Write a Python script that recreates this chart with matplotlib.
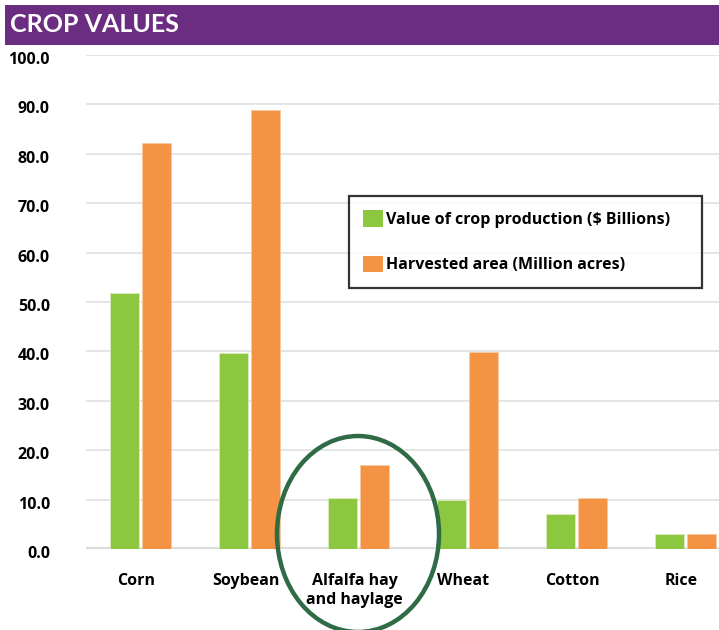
import matplotlib
matplotlib.use("Agg")
import matplotlib.pyplot as plt
from matplotlib.patches import Rectangle, Ellipse, Patch
import matplotlib.transforms as mtransforms
import numpy as np

categories = ["Corn", "Soybean", "Alfalfa hay\nand haylage", "Wheat", "Cotton", "Rice"]
value_billions = [51.8, 39.7, 10.3, 10.0, 7.1, 3.0]
area_million_acres = [82.1, 88.9, 17.0, 39.9, 10.3, 3.0]
yticks = [0, 10, 20, 30, 40, 50, 60, 70, 80, 90, 100]
series_labels = ["Value of crop production ($ Billions)", "Harvested area (Million acres)"]
title = "CROP VALUES"

GREEN = "#8DC63F"
ORANGE = "#F39343"
PURPLE = "#6B2D82"
FONT = "Open Sans"

W, H = 719, 630
fig = plt.figure(figsize=(W / 100, H / 100), dpi=100)

# title banner
fig.patches.append(Rectangle((5 / W, 1 - 45 / H), 1 - 5 / W, 40 / H,
                             transform=fig.transFigure, facecolor=PURPLE,
                             edgecolor="none", zorder=0))
fig.text(10 / W, 1 - 25 / H, title, color="white", fontsize=18,
         fontweight="bold", family="Lato", va="center", ha="left")

ax = fig.add_axes([86 / W, 1 - 549 / H, 1 - 86 / W, (549 - 55) / H])
x = np.arange(len(categories))
bw = 0.265
off = 0.147
ax.bar(x - off, value_billions, bw, color=GREEN, edgecolor="#d8ecbd",
       linewidth=0.6, zorder=3)
ax.bar(x + off, area_million_acres, bw, color=ORANGE, edgecolor="#f8c9a0",
       linewidth=0.6, zorder=3)

ax.set_xlim(-0.5, -0.5 + (W - 86) / 109)
ax.set_ylim(0, 100)
ax.set_yticks(yticks)
ax.set_yticklabels([f"{v:.1f}" for v in yticks], fontsize=11.5,
                   fontweight="bold", family=FONT)
ax.set_xticks(x)
ax.set_xticklabels(categories, fontsize=11.5, fontweight="bold", family=FONT,
                   linespacing=1.3)
ax.tick_params(axis="both", length=0)
ax.tick_params(axis="x", pad=17)
ax.tick_params(axis="y", pad=26)
for lab in ax.get_yticklabels():
    lab.set_transform(lab.get_transform() +
                      mtransforms.ScaledTranslation(0, -3 / 100, fig.dpi_scale_trans))
for lab in ax.get_xticklabels():
    lab.set_transform(lab.get_transform() +
                      mtransforms.ScaledTranslation(-4 / 100, 0, fig.dpi_scale_trans))

for v in yticks[1:]:
    ax.axhline(v, color="#e3e3e3", linewidth=1.3, zorder=1)
ax.axhline(0, color="#dcdcdc", linewidth=3, zorder=2)
for s in ax.spines.values():
    s.set_visible(False)

handles = [Patch(facecolor=GREEN, edgecolor="none"),
           Patch(facecolor=ORANGE, edgecolor="none")]
leg = fig.legend(handles, series_labels, loc="upper left", mode="expand",
                 bbox_to_anchor=(349 / W, 1 - 287 / H, 353 / W, 91 / H),
                 bbox_transform=fig.transFigure,
                 prop={"family": FONT, "weight": "bold", "size": 11.5},
                 frameon=True, fancybox=False, handlelength=1.2,
                 handleheight=1.2, handletextpad=0.2, labelspacing=1.75,
                 borderpad=0.9, borderaxespad=0, edgecolor="black")
leg.get_frame().set_linewidth(1.6)

fig.patches.append(Ellipse((358 / W, 1 - 534 / H), 162 / W, 196 / H,
                           transform=fig.transFigure, facecolor="none",
                           edgecolor="#2F6B45", linewidth=3.2, zorder=10))

fig.savefig("out.png", dpi=100)
